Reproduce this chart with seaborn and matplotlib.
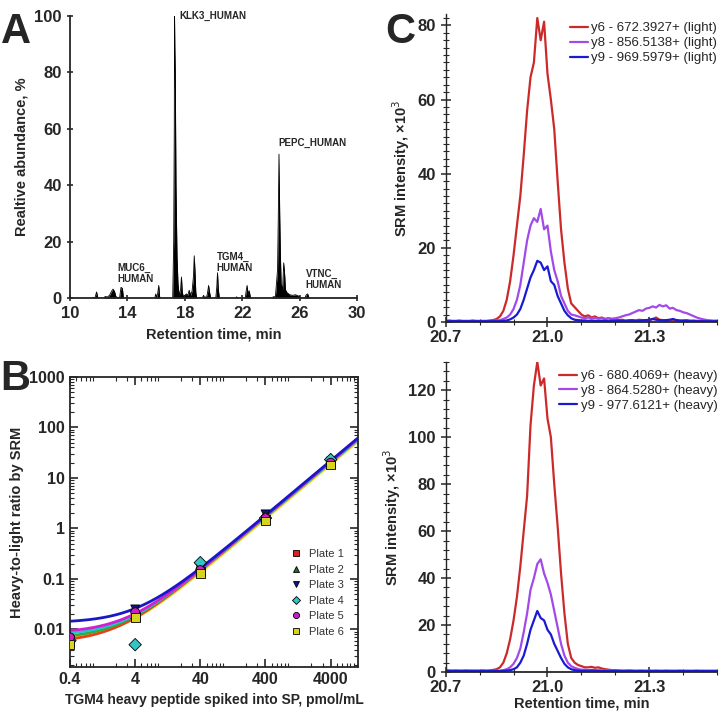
import numpy as np
import pandas as pd
import seaborn as sns
import matplotlib.pyplot as plt
from matplotlib.ticker import FixedLocator, LogLocator, NullFormatter, MultipleLocator

# ---- panel A: total ion chromatogram (retention time, relative abundance)
rt_a = [10.0, 11.5, 11.75, 11.85, 11.95, 12.35, 12.45, 12.6, 12.75, 12.9, 13.0, 13.1, 13.2,
        13.45, 13.55, 13.65, 13.72, 15.9, 15.97, 16.02, 16.1, 16.18, 16.25,
        17.15, 17.22, 17.26, 17.28, 17.3, 17.33, 17.38, 17.45, 17.52, 17.6, 17.7, 17.76, 17.82,
        17.9, 18.0, 18.1, 18.2, 18.3, 18.4, 18.5, 18.6, 18.65, 18.7, 18.76, 18.82,
        19.2, 19.3, 19.38, 19.55, 19.65, 19.72, 19.8, 20.15, 20.22, 20.27, 20.33, 20.4,
        21.55, 21.6, 21.65, 22.2, 22.28, 22.33, 22.4, 22.48, 22.55, 22.6,
        24.05, 24.15, 24.3, 24.45, 24.5, 24.55, 24.6, 24.65, 24.7, 24.8, 24.88, 24.95,
        25.0, 25.1, 25.3, 25.5, 25.7, 25.9, 26.0, 26.1, 26.35, 26.45, 26.55, 26.65, 30.0]
abund_a = [0, 0, 0.3, 2.2, 0, 0, 0.6, 0.4, 1.0, 2.5, 3.2, 2.4, 0.5,
           0, 3.8, 3.5, 0, 0, 1.5, 0.3, 1.5, 4.5, 0,
           0, 20, 60, 100, 89, 80, 40, 15, 5, 1, 3, 7.5, 2,
           0.5, 1, 1.5, 1, 2.8, 1, 2.5, 8, 15, 10, 2, 0,
           0, 1, 0, 1, 4.5, 2, 0, 0, 4, 9, 3, 0,
           0, 0.5, 0, 0, 3, 4.5, 1.5, 2.6, 0.5, 0,
           0, 0.5, 0.5, 10, 28, 51, 30, 15, 5, 3, 12.5, 8,
           3, 2, 1.2, 1, 1.2, 0.8, 0.3, 0, 0, 1.2, 1.5, 0, 0]
peak_names = ["KLK3_HUMAN", "PEPC_HUMAN", "MUC6_\nHUMAN", "TGM4_\nHUMAN", "VTNC_\nHUMAN"]
peak_rt = [17.6, 24.5, 13.3, 20.2, 26.4]
peak_y = [98, 53, 5, 9, 3]

# ---- panel B: calibration, heavy-to-light ratio per plate
conc = [0.4, 4, 40, 400, 4000]
plates = ["Plate 1", "Plate 2", "Plate 3", "Plate 4", "Plate 5", "Plate 6"]
ratio_p1 = [0.0055, 0.018, 0.14, 1.5, 19]
ratio_p2 = [0.006, 0.02, 0.19, 1.7, 24]
ratio_p3 = [0.006, 0.025, 0.16, 1.9, 21]
ratio_p4 = [0.006, 0.005, 0.21, 1.6, 23]
ratio_p5 = [0.007, 0.022, 0.15, 1.6, 20]
ratio_p6 = [0.005, 0.017, 0.13, 1.4, 18]
# fitted curve y = a * x**n + b
fit_a = [0.0026, 0.0027, 0.0028, 0.0027, 0.0027, 0.0024]
fit_n = [1.08, 1.08, 1.08, 1.075, 1.08, 1.08]
fit_b = [0.0055, 0.0065, 0.0135, 0.0075, 0.0085, 0.006]

# ---- panel C: SRM transitions (intensity x1e3)
rt_c = np.round(np.arange(20.70, 21.505, 0.01), 2)
light_y6 = [0.3, 0.4, 0.3, 0.3, 0.4, 0.3, 0.3, 0.3, 0.4, 0.3, 0.3, 0.3, 0.3, 0.4, 0.5, 0.8,
            1.5, 3, 6, 11, 18, 26, 34, 45, 57, 66, 70, 82, 76, 81, 67, 60, 52, 38, 25, 16, 9, 5, 4,
            3, 2, 1.5, 1.8, 1.2, 1.5, 1.0, 1.2, 0.8, 1.0, 0.6, 0.8,
            0.5, 0.6, 0.4, 0.5, 0.5, 0.4, 0.6, 0.5, 0.5, 0.4, 0.8, 1.2, 0.6, 0.5, 0.4, 0.5, 0.6,
            0.4, 0.3, 0.4, 0.5, 0.3, 0.4, 0.3, 0.3, 0.4, 0.3, 0.3, 0.3, 0.3]
light_y8 = [0.2, 0.2, 0.2, 0.2, 0.2, 0.2, 0.2, 0.2, 0.2, 0.2, 0.2, 0.2, 0.2, 0.2, 0.3, 0.4,
            0.5, 0.8, 1.2, 2, 3.5, 6, 10, 16, 22, 26, 28, 27, 30.5, 25, 26, 19, 14, 11, 7, 5, 3, 2,
            1.8, 1.5, 1.2, 1.0, 1.2, 1.0, 1.1, 0.9, 1.0, 0.8, 1.0, 0.9, 1.0,
            1.2, 1.5, 1.8, 2.0, 2.4, 2.8, 3.2, 3.0, 3.6, 3.8, 4.2, 3.9, 4.6, 4.2, 4.5, 3.6, 3.8,
            3.2, 3.0, 2.6, 2.4, 2.0, 1.6, 1.2, 0.9, 0.7, 0.5, 0.4, 0.3, 0.3]
light_y9 = [0.2, 0.2, 0.2, 0.2, 0.2, 0.2, 0.2, 0.2, 0.2, 0.2, 0.2, 0.2, 0.2, 0.2, 0.2, 0.2,
            0.2, 0.3, 0.4, 0.7, 1.2, 2, 3.5, 6, 9, 12, 14, 16.5, 16, 14, 15, 11, 10, 7, 5, 3, 1.8,
            1.0, 0.6, 0.5, 0.4, 0.4, 0.3, 0.4, 0.3, 0.3, 0.3, 0.3, 0.2, 0.3, 0.3,
            0.3, 0.3, 0.2, 0.3, 0.4, 0.3, 0.3, 0.4, 0.5, 0.6, 0.8, 0.6, 0.5, 0.4, 0.5, 0.6, 0.8,
            0.5, 0.4, 0.3, 0.3, 0.3, 0.2, 0.2, 0.2, 0.2, 0.2, 0.2, 0.2, 0.2]
heavy_y6 = [0.8, 0.7, 0.6, 0.7, 0.6, 0.6, 0.7, 0.6, 0.6, 0.6, 0.6, 0.7, 0.6, 0.7, 0.9, 1.2,
            2, 4, 8, 14, 22, 32, 45, 60, 75, 105, 122, 132, 122, 125, 108, 100, 80, 62, 42, 25, 12,
            6, 4, 3, 2.5, 2, 2, 2.2, 1.8, 2, 1.5, 1.2, 1.0, 0.8, 0.8,
            0.7, 0.6, 0.6, 0.7, 0.6, 0.5, 0.6, 0.6, 0.5, 0.6, 0.5, 0.6, 0.5, 0.5, 0.6, 0.5, 0.5,
            0.5, 0.6, 0.5, 0.5, 0.5, 0.5, 0.6, 0.5, 0.5, 0.5, 0.5, 0.5, 0.5]
heavy_y8 = [0.5, 0.5, 0.5, 0.5, 0.5, 0.5, 0.5, 0.5, 0.5, 0.5, 0.5, 0.5, 0.5, 0.5, 0.5, 0.5,
            0.6, 0.8, 1.2, 2, 3.5, 6, 10, 17, 25, 35, 40, 46, 48, 42, 38, 33, 26, 19, 12, 7, 4,
            2.5, 1.8, 1.3, 1.0, 1.0, 0.8, 0.9, 0.8, 0.8, 0.7, 0.7, 0.6, 0.6, 0.6,
            0.5, 0.5, 0.5, 0.5, 0.5, 0.5, 0.5, 0.5, 0.5, 0.5, 0.5, 0.5, 0.5, 0.5, 0.5, 0.5, 0.5,
            0.5, 0.5, 0.5, 0.5, 0.5, 0.5, 0.5, 0.5, 0.5, 0.5, 0.5, 0.5, 0.5]
heavy_y9 = [0.4, 0.4, 0.4, 0.4, 0.4, 0.4, 0.4, 0.4, 0.4, 0.4, 0.4, 0.4, 0.4, 0.4, 0.4, 0.4,
            0.4, 0.5, 0.6, 0.8, 1.2, 2, 4, 7, 12, 18, 22, 26, 23, 22, 18, 16, 12, 9, 6, 3.5, 2,
            1.2, 0.8, 0.6, 0.5, 0.5, 0.5, 0.6, 0.5, 0.4, 0.4, 0.4, 0.4, 0.4, 0.4,
            0.4, 0.4, 0.4, 0.4, 0.4, 0.4, 0.4, 0.4, 0.4, 0.4, 0.4, 0.4, 0.4, 0.4, 0.4, 0.4, 0.4,
            0.4, 0.4, 0.4, 0.4, 0.4, 0.4, 0.4, 0.4, 0.4, 0.4, 0.4, 0.4, 0.4]
light_labels = ["y6 - 672.3927+ (light)", "y8 - 856.5138+ (light)", "y9 - 969.5979+ (light)"]
heavy_labels = ["y6 - 680.4069+ (heavy)", "y8 - 864.5280+ (heavy)", "y9 - 977.6121+ (heavy)"]

sns.set_theme(style="ticks")
plt.rcParams['font.family'] = ['Liberation Sans', 'DejaVu Sans']
plt.rcParams['axes.linewidth'] = 1.3

fig = plt.figure(figsize=(7.2, 7.15), dpi=100)

# ================= A
axA = fig.add_axes([0.0972, 0.583, 0.399, 0.395])
sns.lineplot(x=rt_a, y=abund_a, ax=axA, color="black", lw=0.6, sort=False)
axA.fill_between(rt_a, abund_a, color="black", lw=0)
axA.set_xlim(10, 30)
axA.set_ylim(0, 100)
axA.set_xticks([10, 14, 18, 22, 26, 30])
axA.set_yticks([0, 20, 40, 60, 80, 100])
axA.tick_params(direction="inout", length=5, width=1.2, labelsize=12)
for lab in axA.get_xticklabels() + axA.get_yticklabels():
    lab.set_fontweight("bold")
sns.despine(ax=axA)
axA.set_xlabel("Retention time, min", fontsize=10.5, fontweight="bold")
axA.set_ylabel("Realtive abundance, %", fontsize=10.5, fontweight="bold")
for name, x, y in zip(peak_names, peak_rt, peak_y):
    axA.text(x, y, name, fontsize=7, fontweight="bold", ha="left", va="bottom", linespacing=1.1)

# ================= B
axB = fig.add_axes([0.0972, 0.067, 0.4, 0.406])
df_pts = pd.DataFrame({
    "conc": conc * 6,
    "ratio": ratio_p1 + ratio_p2 + ratio_p3 + ratio_p4 + ratio_p5 + ratio_p6,
    "plate": [p for p in plates for _ in conc],
})
line_cols = ["#e8401c", "#3aa83a", "#1818c8", "#22c4d0", "#d21ed2", "#e6e020"]
mark_cols = ["#e02020", "#1f6e1f", "#12128e", "#34c4c4", "#c81ec8", "#d8d41c"]
marks = ["s", "^", "v", "D", "o", "s"]
xfit = np.logspace(np.log10(0.4), np.log10(12000), 200)
draw_order = [5, 0, 1, 3, 4, 2]
for i in draw_order:
    yfit = fit_a[i] * xfit ** fit_n[i] + fit_b[i]
    sns.lineplot(x=xfit, y=yfit, ax=axB, color=line_cols[i], lw=2, legend=False)
sns.scatterplot(data=df_pts, x="conc", y="ratio", hue="plate", style="plate",
                palette=mark_cols, markers=marks, s=40, edgecolor="black", linewidth=0.6,
                ax=axB, zorder=5)
axB.set_xscale("log")
axB.set_yscale("log")
axB.set_xlim(0.4, 10500)
axB.set_ylim(0.0018, 1000)
axB.xaxis.set_major_locator(FixedLocator(conc))
axB.set_xticklabels(["0.4", "4", "40", "400", "4000"])
axB.xaxis.set_minor_locator(LogLocator(subs=np.arange(2, 10)))
axB.xaxis.set_minor_formatter(NullFormatter())
axB.set_yticks([0.01, 0.1, 1, 10, 100, 1000])
axB.set_yticklabels(["0.01", "0.1", "1", "10", "100", "1000"])
axB.yaxis.set_minor_locator(LogLocator(subs=np.arange(2, 10)))
axB.yaxis.set_minor_formatter(NullFormatter())
axB.tick_params(which="both", direction="in", top=True, right=True, labelsize=11.5)
axB.tick_params(which="major", length=6, width=1.2)
axB.tick_params(which="minor", length=3, width=0.8)
for lab in axB.get_xticklabels() + axB.get_yticklabels():
    lab.set_fontweight("bold")
axB.set_xlabel("TGM4 heavy peptide spiked into SP, pmol/mL", fontsize=10, fontweight="bold")
axB.set_ylabel("Heavy-to-light ratio by SRM", fontsize=10.5, fontweight="bold")
legB = axB.legend(loc="lower right", bbox_to_anchor=(0.985, 0.07), frameon=False, fontsize=8,
                  handletextpad=0.15, labelspacing=0.5, markerscale=0.7, title=None)
for t in legB.get_texts():
    t.set_color("#333333")

# ================= C
c_cols = ["#cc2a2a", "#a24ae8", "#1a1ad2"]


def srm_panel(ax, series, labels, ymax, ymajor, yminor):
    for vals, col, lab in zip(series, c_cols, labels):
        sns.lineplot(x=rt_c, y=vals, ax=ax, color=col, lw=1.6, label=lab)
    ax.set_xlim(20.7, 21.5)
    ax.set_ylim(0, ymax)
    ax.xaxis.set_major_locator(FixedLocator([20.7, 21.0, 21.3]))
    ax.xaxis.set_minor_locator(MultipleLocator(0.1))
    ax.set_xticklabels(["20.7", "21.0", "21.3"])
    ax.yaxis.set_major_locator(MultipleLocator(ymajor))
    ax.yaxis.set_minor_locator(MultipleLocator(yminor))
    ax.tick_params(which="both", direction="inout", labelsize=12)
    ax.tick_params(which="major", length=7, width=1.1)
    ax.tick_params(which="minor", length=5, width=0.8)
    ax.tick_params(axis="x", which="both", pad=2)
    for lab in ax.get_xticklabels() + ax.get_yticklabels():
        lab.set_fontweight("bold")
    sns.despine(ax=ax)
    ax.spines["left"].set_linewidth(1.0)
    ax.set_ylabel("SRM intensity, ×10$^{3}$", fontsize=10.5, fontweight="bold")
    ax.legend(loc="upper right", bbox_to_anchor=(1.03, 1.0), frameon=False, fontsize=9.5,
              handlelength=1.3, handletextpad=0.3, labelspacing=0.2, borderaxespad=0.2)


axC1 = fig.add_axes([0.619, 0.5497, 0.377, 0.4303])
srm_panel(axC1, [light_y6, light_y8, light_y9], light_labels, 83, 20, 2)
axC1.set_xlabel("")

axC2 = fig.add_axes([0.619, 0.0601, 0.377, 0.4336])
srm_panel(axC2, [heavy_y6, heavy_y8, heavy_y9], heavy_labels, 132, 20, 4)
axC2.set_xlabel("Retention time, min", fontsize=10.5, fontweight="bold", labelpad=1)

fig.text(0.002, 0.955, "A", fontsize=30, fontweight="bold", va="center")
fig.text(0.0, 0.47, "B", fontsize=30, fontweight="bold", va="center")
fig.text(0.535, 0.955, "C", fontsize=30, fontweight="bold", va="center")

fig.savefig("out.png", dpi=100)
